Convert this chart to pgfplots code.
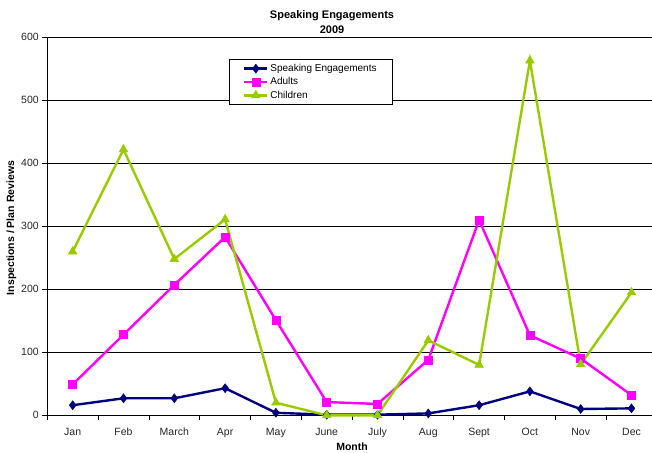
\documentclass[border=0pt]{standalone}
\usepackage{pgfplots}
\pgfplotsset{compat=1.18}
\usepackage{fontspec}
\setmainfont{Liberation Sans}
\definecolor{navyser}{HTML}{000080}
\definecolor{magser}{HTML}{FF00FF}
\definecolor{grnser}{HTML}{99CC00}
\begin{document}
\begin{tikzpicture}[x=1pt,y=1pt]
\useasboundingbox (0,0) rectangle (652,452);
\node[font=\bfseries\fontsize{11}{15}\selectfont, align=center] at (332,430) {Speaking Engagements\\2009};
\node[font=\bfseries\fontsize{10.5}{12}\selectfont, rotate=90] at (11.5,224) {Inspections / Plan Reviews};
\node[font=\bfseries\fontsize{10.5}{12}\selectfont] at (352,5) {Month};
\begin{axis}[
  at={(47.3pt,36.7pt)}, anchor=south west,
  scale only axis, width=609.6pt, height=378pt,
  xmin=-0.5, xmax=11.5, ymin=0, ymax=600,
  axis x line=bottom, axis y line=left,
  axis line style={-, black, line width=0.8pt},
  xtick={0,...,11},
  xticklabels={Jan,Feb,March,Apr,May,June,July,Aug,Sept,Oct,Nov,Dec},
  major x tick style={draw=none},
  minor xtick={-0.5,0.5,...,11.5},
  minor x tick style={black, line width=0.8pt},
  minor tick length=5pt,
  ytick={0,100,...,600},
  major tick length=5pt,
  tick align=outside,
  ytick style={black, line width=0.8pt},
  ymajorgrids, grid style={black, line width=0.6pt},
  tick label style={font=\fontsize{10.5}{12}\selectfont, text=black!85},
  xticklabel style={yshift=-4pt},
  /pgf/number format/assume math mode=true,
  clip=false,
  legend style={at={(rel axis cs:0.298,0.9426)}, anchor=north west,
    draw=black, line width=0.6pt, font=\fontsize{10}{12}\selectfont,
    inner xsep=14pt, inner ysep=3pt, row sep=0.6pt, cells={anchor=west}},
  legend image code/.code={\draw[mark repeat=2,mark phase=2] plot coordinates {(0cm,0cm)(0.4cm,0cm)(0.8cm,0cm)};},
]
\addplot[navyser, line width=2.4pt, mark=diamond*, mark size=4.5pt, mark options={solid, line width=0.5pt}]
  coordinates {(0,16)(1,27)(2,27)(3,43)(4,4)(5,1)(6,1)(7,3)(8,16)(9,38)(10,10)(11,11)};
\addlegendentry{Speaking Engagements}
\addplot[magser, line width=2.4pt, mark=square*, mark size=4pt, mark options={solid, line width=0.5pt}]
  coordinates {(0,49)(1,128)(2,207)(3,283)(4,151)(5,21)(6,18)(7,88)(8,310)(9,127)(10,90)(11,32)};
\addlegendentry{Adults}
\addplot[grnser, line width=2.4pt, mark=triangle*, mark size=5pt, mark options={solid, line width=0.5pt}]
  coordinates {(0,260)(1,422)(2,248)(3,311)(4,20)(5,0)(6,0)(7,119)(8,80)(9,563)(10,81)(11,195)};
\addlegendentry{Children}
\end{axis}
\end{tikzpicture}
\end{document}
